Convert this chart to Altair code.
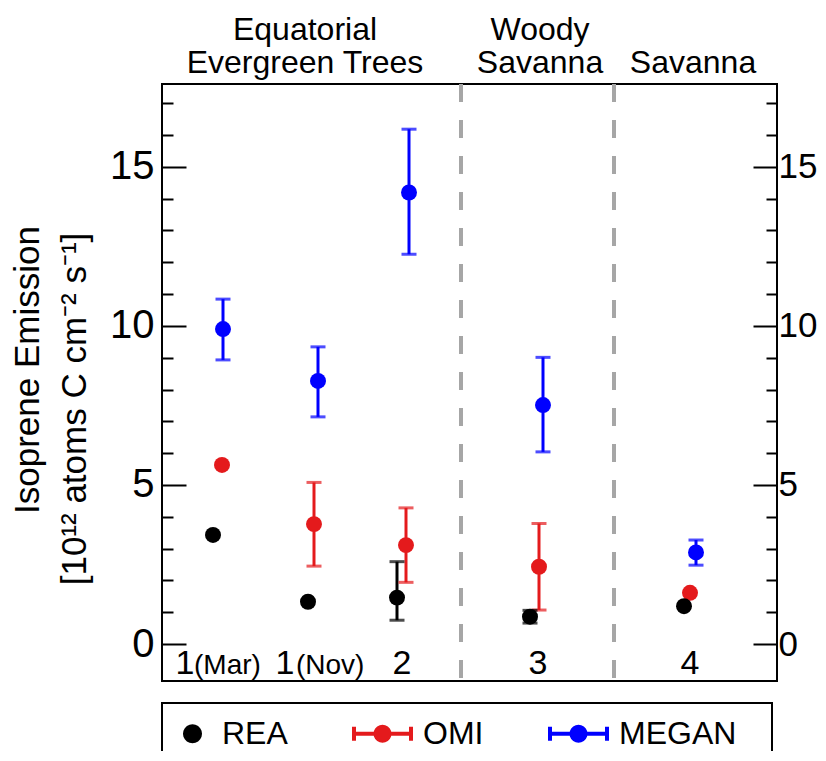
import math
import altair as alt
import pandas as pd

# ---------------- data ----------------
series_order = ["REA", "OMI", "MEGAN"]
series_colors = ["#000000", "#e41a1c", "#0000ff"]

# horizontal position of each site for each series (plot units, 0..615)
rea_x = [51, 146, 235, 368, 522]
omi_x = [60, 152, 244, 377, 528]
megan_x = [61, 156, 247, 381, 534]

rea_y = [3.43, 1.33, 1.46, 0.86, 1.19]
rea_lo = [None, None, 0.75, 0.66, None]
rea_hi = [None, None, 2.59, 1.06, None]

omi_y = [5.63, 3.77, 3.11, 2.43, 1.61]
omi_lo = [None, 2.45, 1.94, 1.07, None]
omi_hi = [None, 5.08, 4.28, 3.79, None]

megan_y = [9.90, 8.27, 14.19, 7.51, 2.88]
megan_lo = [8.93, 7.14, 12.25, 6.04, 2.48]
megan_hi = [10.84, 9.34, 16.18, 9.01, 3.27]

site_num = ["1", "1", "2", "3", "4"]
site_num_x = [23, 123, 240, 376, 528]
site_month = ["(Mar)", "(Nov)"]
site_month_x = [32, 134]

boundary_x = [299, 452]
region_line1 = ["Equatorial", "Woody", ""]
region_line2 = ["Evergreen Trees", "Savanna", "Savanna"]
region_x = [143, 378, 531]

y_ticks = list(range(0, 18))

# ---------------- tables ----------------
rows = []
for name, xs, ys, los, his in [
    ("MEGAN", megan_x, megan_y, megan_lo, megan_hi),
    ("OMI", omi_x, omi_y, omi_lo, omi_hi),
    ("REA", rea_x, rea_y, rea_lo, rea_hi),
]:
    for xv, yv, lo, hi in zip(xs, ys, los, his):
        rows.append({"series": name, "x": xv, "y": yv, "lo": lo, "hi": hi})
df = pd.DataFrame(rows)

bdf = pd.DataFrame({"x": boundary_x})
num_df = pd.DataFrame({"x": site_num_x, "t": site_num})
mon_df = pd.DataFrame({"x": site_month_x, "t": site_month})
reg1_df = pd.DataFrame({"x": region_x, "t": region_line1})
reg2_df = pd.DataFrame({"x": region_x, "t": region_line2})

FONT = "Liberation Sans"

X = alt.Scale(domain=[0, 615], nice=False, zero=False)
Y = alt.Scale(domain=[-1.16, 17.6], nice=False, zero=False)
C = alt.Scale(domain=series_order, range=series_colors)


def xenc(field="x"):
    return alt.X(f"{field}:Q", scale=X, axis=None)


label_expr = "datum.value % 5 === 0 ? datum.label : ''"
minor_test = "datum.value % 5 !== 0"
MAJOR = 24
MINOR = 11
tick_dash = {"condition": {"test": minor_test, "value": [MINOR, MAJOR - MINOR]},
             "value": [MAJOR * 4, 0]}
tick_dash_offset = {"condition": {"test": minor_test, "value": MINOR}, "value": 0}

common_axis = dict(
    values=y_ticks, tickSize=MAJOR, offset=-MAJOR, domain=False, grid=False,
    labelExpr=label_expr, labelFont=FONT, labelColor="black",
    tickColor="black", tickWidth=2, tickDash=tick_dash, tickDashOffset=tick_dash_offset,
)

BLANK = "\u2800"
left_axis = alt.Axis(
    orient="left", labelPadding=8, labelFontSize=40,
    title=[BLANK + "Isoprene Emission",
           "[10\u00b9\u00b2 atoms C cm\u207b\u00b2 s\u207b\u00b9]" + BLANK + BLANK],
    titleFont=FONT, titleFontSize=35, titleFontWeight="normal", titleColor="black",
    titlePadding=17, titleLineHeight=47,
    **common_axis,
)
right_axis = alt.Axis(orient="right", labelPadding=1, labelFontSize=35, title=None,
                      **common_axis)

dashed = alt.Chart(bdf).mark_rule(color="#a6a6a6", strokeWidth=4, strokeDash=[18, 18]).encode(
    x=xenc()
)

has_err = "datum.lo != null"

bars = alt.Chart(df).transform_filter(has_err).mark_rule(strokeWidth=3).encode(
    x=xenc(),
    y=alt.Y("lo:Q", scale=Y, axis=right_axis),
    y2="hi:Q",
    color=alt.Color("series:N", scale=C, legend=None),
)

caps = alt.Chart(df).transform_filter(has_err).transform_fold(
    ["lo", "hi"], as_=["end", "val"]
).mark_tick(orient="horizontal", size=15, thickness=3).encode(
    x=xenc(),
    y=alt.Y("val:Q", scale=Y, axis=None),
    color=alt.Color("series:N", scale=C, legend=None),
)

points = alt.Chart(df).mark_circle(size=255, opacity=1).encode(
    x=xenc(),
    y=alt.Y("y:Q", scale=Y, axis=left_axis),
    color=alt.Color("series:N", scale=C, legend=None),
)

nums = alt.Chart(num_df).mark_text(
    font=FONT, fontSize=34, align="center", baseline="alphabetic", color="black"
).encode(x=xenc(), y=alt.value(590), text="t:N")

months = alt.Chart(mon_df).mark_text(
    font=FONT, fontSize=28, align="left", baseline="alphabetic", color="black"
).encode(x=xenc(), y=alt.value(590), text="t:N")

regions1 = alt.Chart(reg1_df).mark_text(
    font=FONT, fontSize=32, align="center", baseline="alphabetic", color="black"
).encode(x=xenc(), y=alt.value(-44), text="t:N")

regions2 = alt.Chart(reg2_df).mark_text(
    font=FONT, fontSize=32, align="center", baseline="alphabetic", color="black"
).encode(x=xenc(), y=alt.value(-11), text="t:N")


# ---- legend symbols (custom shapes, unit box scaled by symbol size) ----
def rings(cx, radii, n=20):
    out = []
    for r in radii:
        pts = [(cx + r * math.cos(2 * math.pi * k / n), r * math.sin(2 * math.pi * k / n))
               for k in range(n)]
        out.append("M" + "L".join(f"{px:.3f},{py:.3f}" for px, py in pts) + "Z")
    return "".join(out)


SYM = 33          # symbol box side in px
U = SYM / 2       # px per path unit
rea_path = rings(0.0, [7.5 / U, 4 / U, 1 / U])
cx = -11 / U
hw = 28.5 / U
ch = 7 / U
bar_path = (f"M{cx - hw:.3f},0H{cx + hw:.3f}"
            f"M{cx - hw:.3f},{-ch:.3f}V{ch:.3f}M{cx + hw:.3f},{-ch:.3f}V{ch:.3f}"
            + rings(cx, [7 / U, 3.5 / U, 1 / U]))
shape_range = [rea_path, bar_path, bar_path]

leg = alt.Legend(
    title=None, orient="none", legendX=0, legendY=619, direction="horizontal",
    labelFont=FONT, labelFontSize=32, labelColor="black", labelOffset=11,
    labelLimit=400,
    columnPadding=57, padding=12, strokeColor="black",
    symbolSize=SYM * SYM, symbolStrokeWidth=4, symbolOpacity=1,
    labelExpr="datum.label == 'MEGAN' ? datum.label + '\u2800' : datum.label",
)

legend_layer = alt.Chart(df).transform_filter("false").mark_point(
    filled=False, strokeWidth=4, size=SYM * SYM, opacity=1
).encode(
    color=alt.Color("series:N", scale=C, legend=leg),
    shape=alt.Shape("series:N", scale=alt.Scale(domain=series_order, range=shape_range), legend=leg),
)

chart = alt.layer(
    dashed, bars, caps, points, nums, months, regions1, regions2, legend_layer
).resolve_axis(y="independent").resolve_legend(
    color="independent", shape="independent"
).properties(
    width=615, height=597,
    autosize=alt.AutoSizeParams(type="none"),
    padding={"left": 154, "top": 76, "right": 41, "bottom": 70},
).configure(font=FONT).configure_view(
    stroke="black", strokeWidth=2
).configure_legend(strokeWidth=2)

chart.save("out.html", embed_options={"renderer": "svg", "actions": False})
